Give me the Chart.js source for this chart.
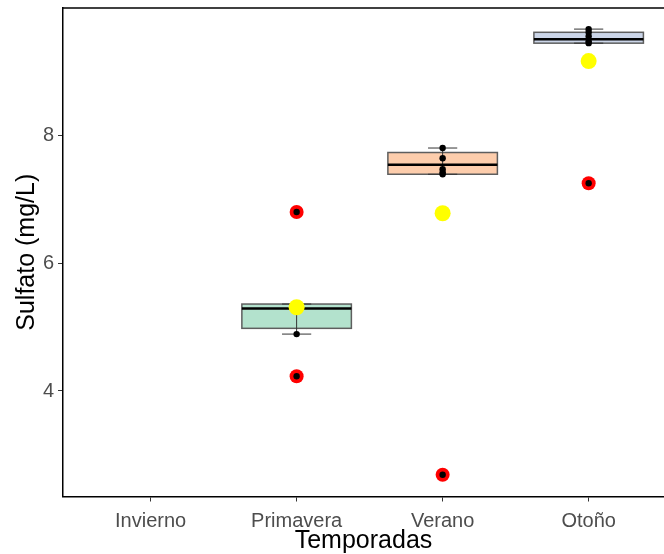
<!DOCTYPE html>
<html>
<head>
<meta charset="utf-8">
<script src="https://cdn.jsdelivr.net/npm/chart.js@4.4.1/dist/chart.umd.min.js"></script>
<style>
  html, body { margin: 0; padding: 0; background: #fff; overflow: hidden; }
</style>
</head>
<body>
<canvas id="sulfatoChart" width="664" height="554"></canvas>
<script>
// Temporadas (Invierno sin datos)
const categories = ['Invierno', 'Primavera', 'Verano', 'Otoño'];

// estadisticos de cada caja
const q1 = [null, 4.98, 7.39, 9.44];
const medians = [null, 5.29, 7.54, 9.50];
const q3 = [null, 5.36, 7.73, 9.61];
const whiskerLow = [null, 4.89, 7.39, 9.44];
const whiskerHigh = [null, 5.36, 7.80, 9.66];
const means = [null, 5.31, 6.78, 9.16];

// observaciones (puntos negros)
const obsPrimavera = [4.23, 4.89, 5.25, 5.33, 5.36, 6.80];
const obsVerano = [2.69, 7.39, 7.42, 7.47, 7.64, 7.80];
const obsOtono = [7.25, 9.44, 9.47, 9.55, 9.61, 9.66];

// valores atipicos (rojo)
const outPrimavera = [4.23, 6.80];
const outVerano = [2.69];
const outOtono = [7.25];

const yTicks = [4, 6, 8];
const boxColors = ['#F4CAE4', '#B3E2CD', '#FDCDAC', '#CBD5E8'];

const toPoints = (idx, values) => values.map(v => ({ x: idx + 1, y: v }));

const boxPlugin = {
    id: 'boxes',
    beforeDatasetsDraw(chart) {
        const { ctx, scales: { x, y } } = chart;
        const unit = x.getPixelForValue(2) - x.getPixelForValue(1);
        ctx.save();
        categories.forEach((cat, i) => {
            if (q1[i] == null) return;
            const cx = x.getPixelForValue(i + 1);
            const half = unit * 0.75 / 2;
            const cap = unit * 0.2 / 2;
            const top = y.getPixelForValue(q3[i]);
            const bottom = y.getPixelForValue(q1[i]);

            // caja
            ctx.fillStyle = boxColors[i];
            ctx.fillRect(cx - half, top, half * 2, bottom - top);
            ctx.strokeStyle = '#5e5e5e';
            ctx.lineWidth = 1.5;
            ctx.strokeRect(cx - half, top, half * 2, bottom - top);

            // bigotes con tapas
            const wl = y.getPixelForValue(whiskerLow[i]);
            const wh = y.getPixelForValue(whiskerHigh[i]);
            ctx.strokeStyle = '#333';
            ctx.lineWidth = 1;
            ctx.beginPath();
            ctx.moveTo(cx, wl); ctx.lineTo(cx, wh);
            ctx.moveTo(cx - cap, wl); ctx.lineTo(cx + cap, wl);
            ctx.moveTo(cx - cap, wh); ctx.lineTo(cx + cap, wh);
            ctx.stroke();

            // mediana
            const m = y.getPixelForValue(medians[i]);
            ctx.strokeStyle = '#000';
            ctx.lineWidth = 2.5;
            ctx.beginPath();
            ctx.moveTo(cx - half, m); ctx.lineTo(cx + half, m);
            ctx.stroke();
        });
        ctx.restore();
    },
    afterDraw(chart) {
        const { ctx, chartArea } = chart;
        ctx.save();
        ctx.strokeStyle = '#000';
        ctx.lineWidth = 1.5;
        ctx.beginPath();
        ctx.moveTo(chartArea.left, chartArea.top);
        ctx.lineTo(chartArea.right + 2, chartArea.top);
        ctx.stroke();
        ctx.restore();
    }
};

const fontFamily = "'Liberation Sans', Arial, sans-serif";

new Chart(document.getElementById('sulfatoChart').getContext('2d'), {
    type: 'scatter',
    data: {
        datasets: [
            {
                label: 'Media',
                data: means.map((v, i) => v == null ? null : { x: i + 1, y: v }).filter(p => p),
                backgroundColor: '#FFFF00',
                borderWidth: 0,
                pointRadius: 8,
                order: 1
            },
            {
                label: 'Observaciones',
                data: [...toPoints(1, obsPrimavera), ...toPoints(2, obsVerano), ...toPoints(3, obsOtono)],
                backgroundColor: '#000',
                borderWidth: 0,
                pointRadius: 3.2,
                order: 2
            },
            {
                label: 'Atipicos',
                data: [...toPoints(1, outPrimavera), ...toPoints(2, outVerano), ...toPoints(3, outOtono)],
                backgroundColor: '#FF0000',
                borderWidth: 0,
                pointRadius: 7,
                order: 3
            }
        ]
    },
    options: {
        responsive: false,
        animation: false,
        layout: { autoPadding: false, padding: { top: 8, left: 0, right: 0, bottom: 0 } },
        plugins: {
            legend: { display: false },
            tooltip: { enabled: false }
        },
        scales: {
            x: {
                type: 'linear',
                min: 0.4,
                max: 4.516,
                afterBuildTicks: scale => { scale.ticks = categories.map((c, i) => ({ value: i + 1 })); },
                afterFit: scale => {
                    scale.height = 57.5;
                    scale.paddingLeft = 0;
                    scale.paddingRight = 0;
                },
                ticks: {
                    callback: v => categories[v - 1],
                    color: '#4d4d4d',
                    font: { family: fontFamily, size: 20 },
                    padding: 8,
                    maxRotation: 0,
                    autoSkip: false
                },
                grid: { drawOnChartArea: false, drawTicks: true, tickLength: 5, color: '#333' },
                border: { display: true, color: '#000', width: 1.5 },
                title: {
                    display: true,
                    text: 'Temporadas',
                    color: '#000',
                    font: { family: fontFamily, size: 25, lineHeight: 1 },
                    padding: { top: 0, bottom: 0 }
                }
            },
            y: {
                min: 2.35,
                max: 9.99,
                afterBuildTicks: scale => { scale.ticks = yTicks.map(v => ({ value: v })); },
                afterFit: scale => {
                    scale.width = 63;
                    scale.paddingTop = 0;
                    scale.paddingBottom = 0;
                },
                ticks: {
                    color: '#4d4d4d',
                    font: { family: fontFamily, size: 20 },
                    padding: 4
                },
                grid: { drawOnChartArea: false, drawTicks: true, tickLength: 5, color: '#333' },
                border: { display: true, color: '#000', width: 1.5 },
                title: {
                    display: true,
                    text: 'Sulfato (mg/L)',
                    color: '#000',
                    font: { family: fontFamily, size: 25, lineHeight: 1 },
                    padding: { top: 15, bottom: 0 }
                }
            }
        }
    },
    plugins: [boxPlugin]
});
</script>
</body>
</html>
